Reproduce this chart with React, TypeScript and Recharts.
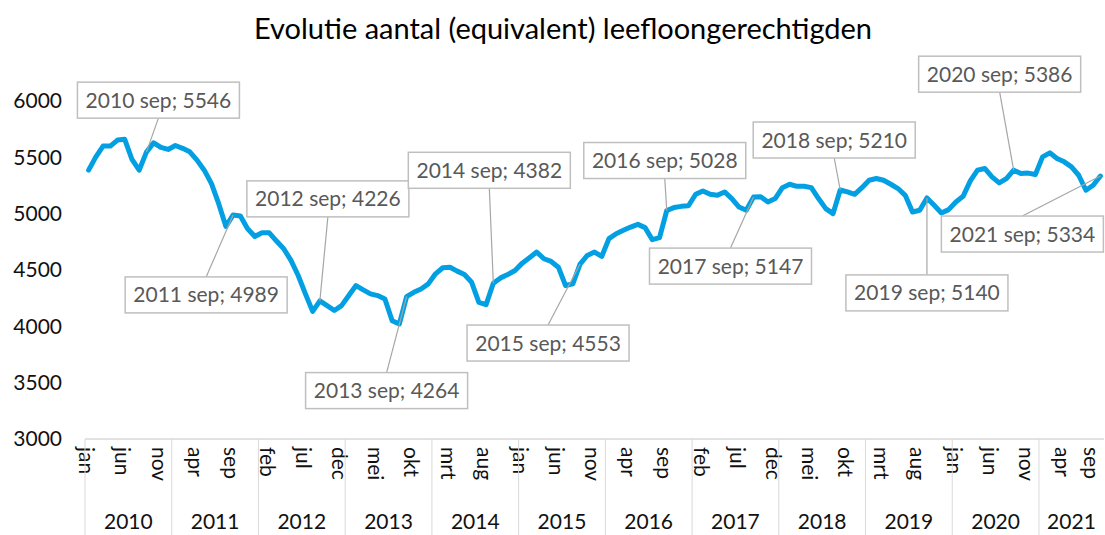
import React from "react";
import { LineChart, Line, XAxis, YAxis } from "recharts";

const FONT = "Lato, 'Noto Sans', sans-serif";

const monthNames = ["jan", "feb", "mrt", "apr", "mei", "jun", "jul", "aug", "sep", "okt", "nov", "dec"];
const years = [2010, 2011, 2012, 2013, 2014, 2015, 2016, 2017, 2018, 2019, 2020, 2021];

// maandelijkse waarden per jaar
const v2010 = [5386, 5504, 5600, 5600, 5653, 5660, 5481, 5386, 5546, 5629, 5588, 5570];
const v2011 = [5605, 5580, 5549, 5475, 5386, 5267, 5089, 4887, 4989, 4980, 4866, 4798];
const v2012 = [4831, 4830, 4757, 4689, 4585, 4451, 4288, 4133, 4226, 4184, 4140, 4184];
const v2013 = [4273, 4362, 4324, 4288, 4273, 4243, 4050, 4021, 4264, 4302, 4332, 4377];
const v2014 = [4466, 4520, 4525, 4490, 4460, 4391, 4213, 4193, 4382, 4430, 4460, 4496];
const v2015 = [4561, 4609, 4659, 4600, 4576, 4525, 4362, 4377, 4553, 4629, 4659, 4620];
const v2016 = [4778, 4822, 4852, 4881, 4905, 4876, 4769, 4787, 5028, 5054, 5065, 5070];
const v2017 = [5172, 5202, 5172, 5163, 5193, 5134, 5059, 5030, 5147, 5150, 5104, 5134];
const v2018 = [5231, 5261, 5243, 5243, 5231, 5134, 5045, 5000, 5210, 5193, 5172, 5231];
const v2019 = [5297, 5312, 5297, 5261, 5223, 5163, 5015, 5030, 5140, 5074, 5006, 5036];
const v2020 = [5104, 5154, 5291, 5386, 5401, 5326, 5273, 5312, 5386, 5356, 5360, 5347];
const v2021 = [5504, 5540, 5490, 5460, 5415, 5341, 5208, 5252, 5334];

const yearValues = [v2010, v2011, v2012, v2013, v2014, v2015, v2016, v2017, v2018, v2019, v2020, v2021];
const yTicks = [3000, 3500, 4000, 4500, 5000, 5500, 6000];

// plaats van de labels t.o.v. het punt (dx, dy van het middelpunt)
const calloutOffsets: Record<number, [number, number]> = {
  2010: [12, -52],
  2011: [-27, 80],
  2012: [8, -102],
  2013: [-20, 94],
  2014: [-4, -113],
  2015: [-32, 79],
  2016: [-2, -50],
  2017: [-23, 69],
  2018: [-6, -50],
  2019: [0, 95],
  2020: [-14, -96],
  2021: [-78, 58],
};

const data = years.flatMap((year, yi) =>
  yearValues[yi].map((value, m) => ({
    key: `${year}-${monthNames[m]}`,
    year,
    month: monthNames[m],
    value,
  }))
);
const keyIndex = new Map(data.map((d, i) => [d.key, i]));

const W = 1105;
const H = 535;
const TOP = 101;
const AXIS_Y = 439;
const Y_AXIS_W = 85;
const RIGHT = 1;
const STEP = (W - Y_AXIS_W - RIGHT) / data.length;
const BOX_W = 162;
const BOX_H = 36;

const YTick = ({ y, payload }: any) => (
  <text x={62} y={y} dy="0.35em" textAnchor="end" fontSize={21} fill="#111" fontFamily={FONT}>
    {payload.value}
  </text>
);

const XTick = ({ x, payload }: any) => {
  const i = keyIndex.get(payload.value) ?? 0;
  const d = data[i];
  const items: React.ReactNode[] = [];
  if (i % 5 === 0) {
    // laatste label niet over de rand laten lopen
    const mx = Math.min(x - 2, W - 14);
    items.push(
      <text
        key="m"
        x={mx}
        y={AXIS_Y + 8}
        dy="0.35em"
        transform={`rotate(90 ${mx} ${AXIS_Y + 8})`}
        textAnchor="start"
        fontSize={21}
        fill="#111"
        fontFamily={FONT}
      >
        {d.month}
      </text>
    );
  }
  if (d.month === "jan") {
    const n = data.filter((e) => e.year === d.year).length;
    const x0 = x - STEP / 2;
    items.push(<line key="s" x1={x0} y1={AXIS_Y} x2={x0} y2={H} stroke="#d9d9d9" />);
    items.push(
      <text key="y" x={x0 + (n * STEP) / 2} y={529} textAnchor="middle" fontSize={21} fill="#111" fontFamily={FONT}>
        {d.year}
      </text>
    );
  }
  return <g>{items}</g>;
};

const renderCallout = (props: any) => {
  const { cx, cy, payload, index } = props;
  const off = calloutOffsets[payload.year];
  if (payload.month !== "sep" || !off) return <g key={`c-${index}`} />;
  const bx = cx + off[0];
  const by = cy + off[1];
  const ly = off[1] < 0 ? by + BOX_H / 2 : by - BOX_H / 2;
  return (
    <g key={`c-${index}`}>
      <line x1={cx} y1={cy} x2={bx} y2={ly} stroke="#a6a6a6" strokeWidth={1.2} />
      <rect x={bx - BOX_W / 2} y={by - BOX_H / 2} width={BOX_W} height={BOX_H} fill="#fff" stroke="#bfbfbf" strokeWidth={1.5} />
      <text x={bx} y={by} dy="0.36em" textAnchor="middle" fontSize={21} fill="#595959" fontFamily={FONT}>
        {`${payload.year} sep; ${payload.value}`}
      </text>
    </g>
  );
};

export default function App() {
  return (
    <div style={{ position: "absolute", left: 0, top: 0, width: W, height: H, background: "#fff", fontFamily: FONT }}>
      <div
        style={{
          position: "absolute",
          top: 10,
          left: 0,
          width: W,
          paddingLeft: 21,
          boxSizing: "border-box",
          textAlign: "center",
          fontSize: 29,
          color: "#000",
          lineHeight: "36px",
        }}
      >
        Evolutie aantal (equivalent) leefloongerechtigden
      </div>
      <LineChart width={W} height={H} data={data} margin={{ top: TOP, right: RIGHT, bottom: 0, left: 0 }}>
        <XAxis
          dataKey="key"
          interval={0}
          tickLine={false}
          axisLine={{ stroke: "#d9d9d9", strokeWidth: 1.5 }}
          padding={{ left: STEP / 2, right: STEP / 2 }}
          height={H - AXIS_Y}
          tick={<XTick />}
        />
        <YAxis
          domain={[3000, 6000]}
          ticks={yTicks}
          axisLine={false}
          tickLine={false}
          width={Y_AXIS_W}
          tick={<YTick />}
        />
        <Line
          type="linear"
          dataKey="value"
          stroke="#02a0e2"
          strokeWidth={5}
          strokeLinejoin="round"
          strokeLinecap="round"
          dot={renderCallout}
          activeDot={false}
          isAnimationActive={false}
        />
      </LineChart>
    </div>
  );
}
